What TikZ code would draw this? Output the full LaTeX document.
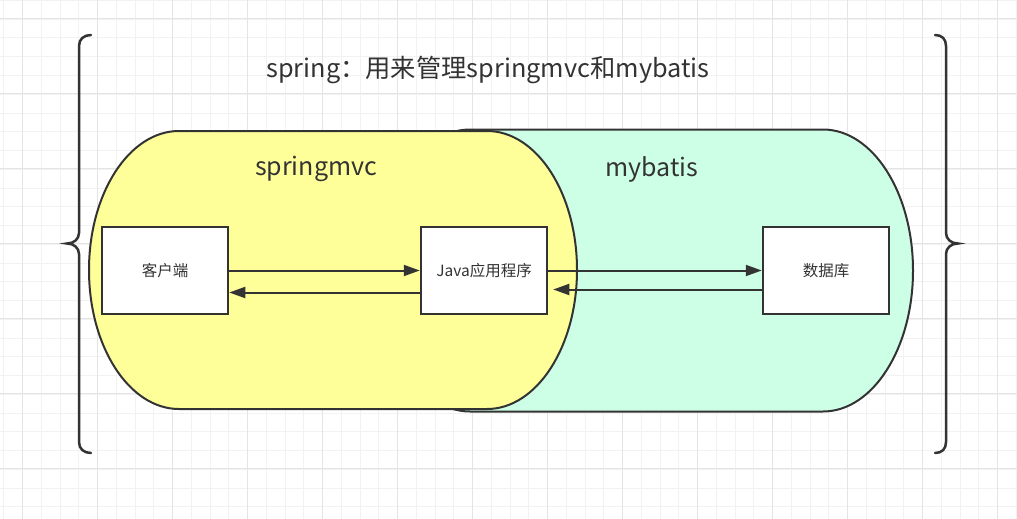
\documentclass[tikz,border=0pt]{standalone}
\usepackage{fontspec}
\setmainfont{Noto Sans CJK SC}
\usetikzlibrary{arrows.meta}
\definecolor{ink}{HTML}{333333}
\definecolor{yel}{HTML}{FFFF99}
\definecolor{grn}{HTML}{CCFFE6}
\definecolor{gridminor}{HTML}{F2F2F2}
\definecolor{gridmajor}{HTML}{E4E4E4}
\begin{document}
\begin{tikzpicture}[x=1pt,y=-1pt,
  capsule/.style={draw=ink,line width=2pt},
  box/.style={draw=ink,line width=2.5pt,fill=white,minimum width=126pt,minimum height=87pt,inner sep=0pt,font=\fontsize{15.5}{18}\selectfont,text=ink},
  biglabel/.style={font=\fontsize{25}{29}\selectfont,text=ink,inner sep=0pt},
  arr/.style={draw=ink,line width=2pt,-{Triangle[length=16pt,width=11pt]}},
  brace/.style={draw=ink,line width=2.5pt,line cap=round}]
\useasboundingbox (0,0) rectangle (1017,519);
\fill[white] (0,0) rectangle (1017,519);
% grid
\foreach \i in {0,...,54} \draw[gridminor,line width=1pt] ({3.75+18.75*\i},0) -- ++(0,519);
\foreach \i in {0,...,27} \draw[gridminor,line width=1pt] (0,{0.5+18.75*\i}) -- ++(1017,0);
\foreach \i in {0,...,13} \draw[gridmajor,line width=1pt] ({22.5+75*\i},0) -- ++(0,519);
\foreach \i in {0,...,6} \draw[gridmajor,line width=1pt] (0,{18.75+75*\i}) -- ++(1017,0);
% braces
\draw[brace] (91,35) .. controls (84,35) and (79,39) .. (79,46) -- (79,233)
  .. controls (79,239) and (74,243.5) .. (67,243.5)
  .. controls (74,243.5) and (79,248) .. (79,254) -- (79,442)
  .. controls (79,449) and (84,453) .. (91,453);
\draw[brace] (935,35) .. controls (942,35) and (946,39) .. (946,46) -- (946,233)
  .. controls (946,239) and (951,243.5) .. (958,243.5)
  .. controls (951,243.5) and (946,248) .. (946,254) -- (946,442)
  .. controls (946,449) and (942,453) .. (935,453);
% title
\node[biglabel,font=\fontsize{25.3}{30}\selectfont] (title) at (488,70) {spring：用来管理springmvc和mybatis};
% green capsule (mybatis)
\filldraw[capsule,fill=grn] (380,270.5) arc[start angle=180,end angle=270,x radius=90,y radius=141]
  -- (823,129.5) arc[start angle=270,end angle=450,x radius=90,y radius=141]
  -- (470,411.5) arc[start angle=90,end angle=180,x radius=90,y radius=141] -- cycle;
% yellow capsule (springmvc)
\filldraw[capsule,fill=yel] (89,270) arc[start angle=180,end angle=270,x radius=90,y radius=139]
  -- (487,131) arc[start angle=270,end angle=450,x radius=90,y radius=139]
  -- (179,409) arc[start angle=90,end angle=180,x radius=90,y radius=139] -- cycle;
\node[biglabel] (mvc) at (316,169) {springmvc};
\node[biglabel] (mb) at (652,169) {mybatis};
% boxes
\node[box] (client) at (165,270.5) {客户端};
\node[box] (java) at (484,270.5) {Java应用程序};
\node[box] (db) at (826,270.5) {数据库};
% arrows
\draw[arr] (client.east) -- (java.west);
\draw[arr] ([yshift=-22pt]java.west) -- ([yshift=-22pt]client.east);
\draw[arr] (java.east) -- (db.west);
\draw[arr,shorten >=5pt] ([yshift=-19pt]db.west) -- ([yshift=-19pt]java.east);
\end{tikzpicture}
\end{document}
